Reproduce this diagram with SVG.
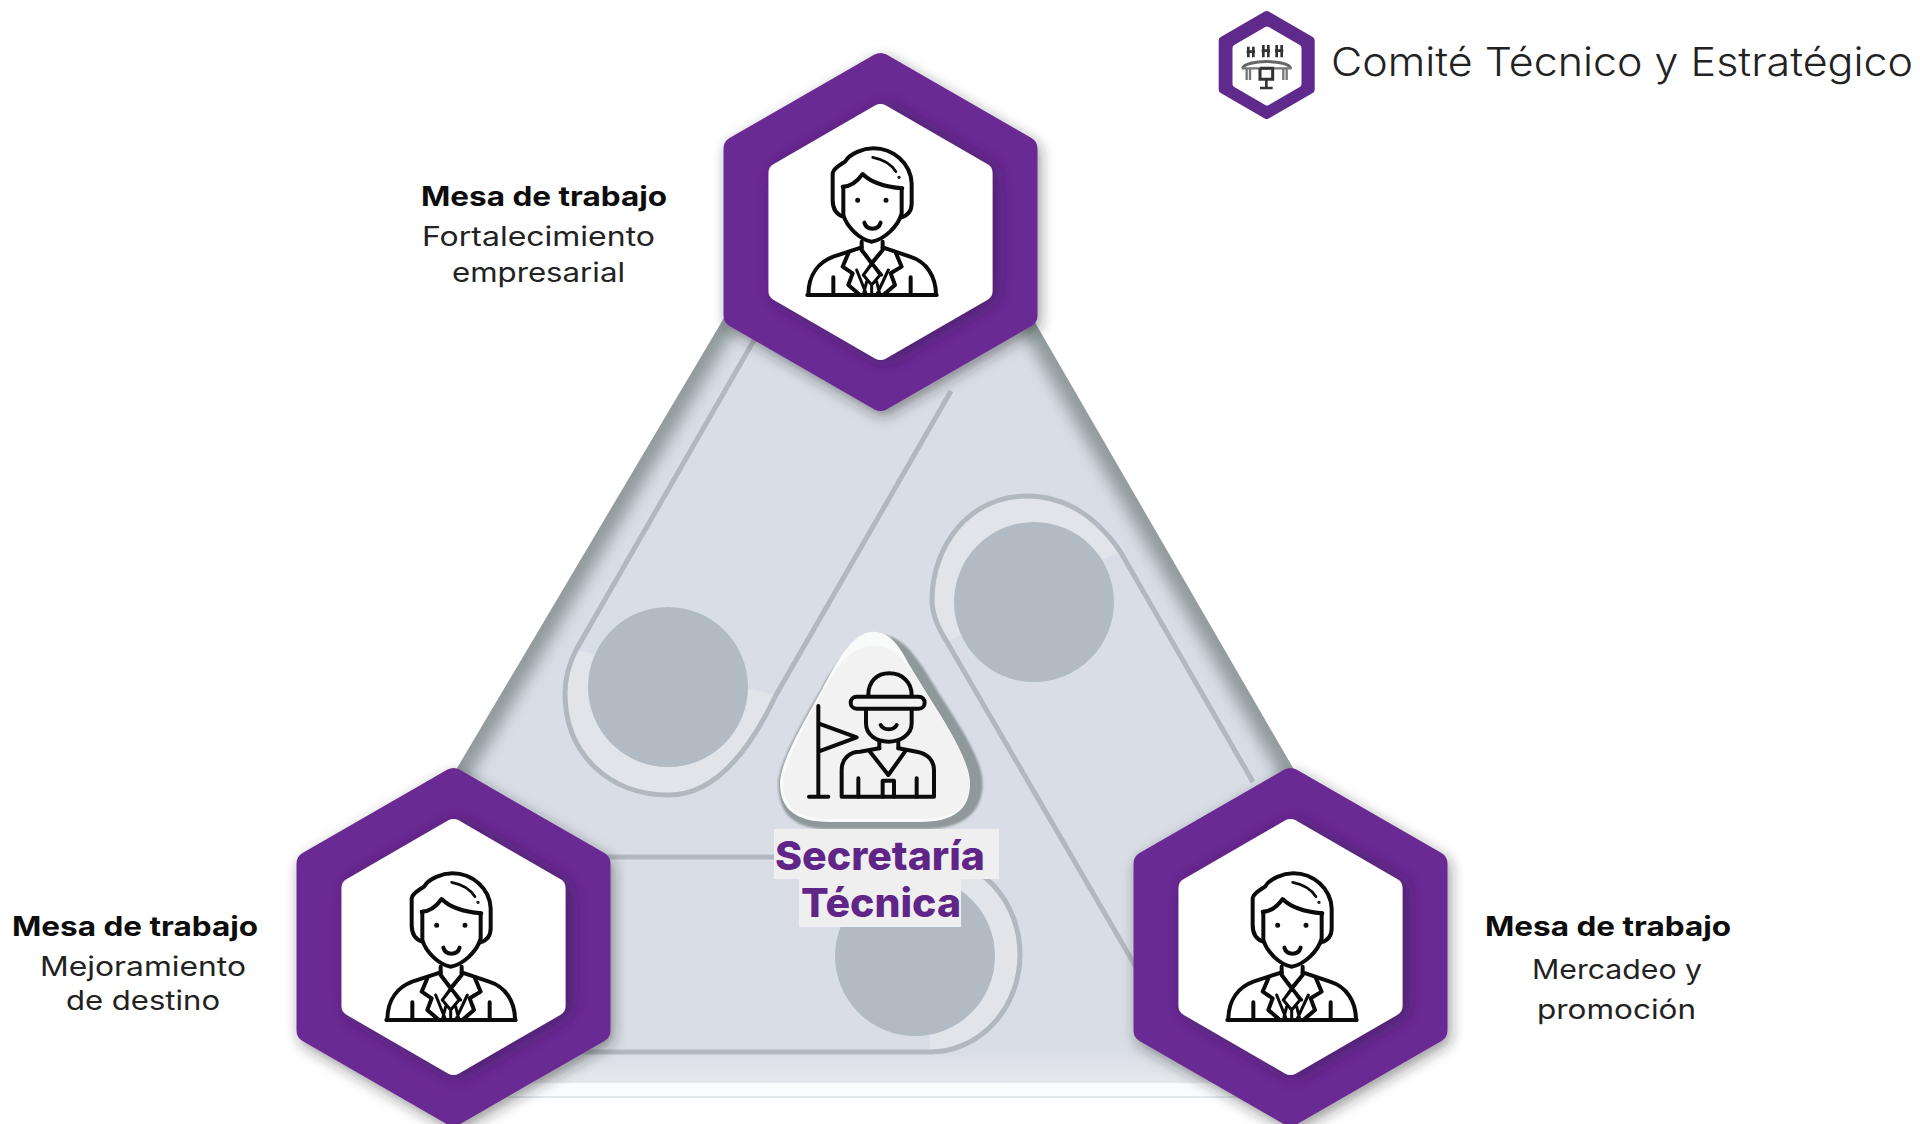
<svg xmlns="http://www.w3.org/2000/svg" width="1920" height="1124" viewBox="0 0 1920 1124">
<style>
.t{font-family:Inter,"Liberation Sans",sans-serif;fill:#222}
.b{font-family:Inter,"Liberation Sans",sans-serif;font-weight:700;fill:#0d0d0d;font-size:27px}
.r{font-size:27px;font-weight:400}
.st{font-family:Inter,"Liberation Sans",sans-serif;font-weight:800;fill:#5f2587;font-size:40px}
.groove{fill:none;stroke:#b1b9bf;stroke-width:5}
.dot{fill:#b2bbc3}
.ring{fill:#e1e5ea}
.ic{fill:none;stroke:#0b0b0b;stroke-width:12;stroke-linejoin:round;stroke-linecap:round}
</style>
<defs>
<linearGradient id="fade" x1="0" y1="0" x2="0" y2="1"><stop offset="0" stop-color="#d9dee6"/><stop offset="1" stop-color="#e6e9ec"/></linearGradient>
<clipPath id="bodyClip"><path d="M880 55L1300 780L1300 1083L450 1083L450 780Z"/></clipPath>
<filter id="blur7" filterUnits="userSpaceOnUse" x="300" y="0" width="1200" height="1124"><feGaussianBlur stdDeviation="8"/></filter>
<filter id="blur3" x="-20%" y="-20%" width="140%" height="140%"><feGaussianBlur stdDeviation="3"/></filter>
<filter id="hexShadow" x="-20%" y="-20%" width="140%" height="140%"><feDropShadow dx="3" dy="5" stdDeviation="7" flood-color="#222" flood-opacity=".45"/></filter>
<filter id="innerShade" x="-20%" y="-20%" width="140%" height="140%"><feDropShadow dx="5" dy="2" stdDeviation="9" flood-color="#3a1a58" flood-opacity=".7"/></filter>
<g id="hex">
<path d="M0 -167L145 -83.500L145 83.500L0 167L-145 83.500L-145 -83.500Z" fill="#6b2a94" stroke="#6b2a94" stroke-width="24" stroke-linejoin="round" filter="url(#hexShadow)"/>
<path d="M0 -118L102 -59L102 59L0 118L-102 59L-102 -59Z" fill="#fff" stroke="#fff" stroke-width="20" stroke-linejoin="round" filter="url(#innerShade)"/>
</g>
<g id="person" class="ic">
<path d="M430 530C405 522 398 500 398 480L398 400C400 385 420 375 435 365C450 340 490 325 520 325C580 325 632 370 635 430L635 490C635 512 625 526 604 532"/>
<path d="M428 440C455 440 475 420 488 402C510 425 550 440 607 445"/>
<path d="M430 440L430 525C440 560 480 600 515 605C550 600 595 560 605 520L605 445"/>
<path d="M518 352C550 358 575 375 588 395" stroke-width="8"/>
<path d="M493 548C500 572 535 572 542 548"/>
<path d="M485 605L485 630L515 670L548 630L548 605"/>
<path d="M325 765C325 700 360 665 400 650L485 622M548 622L630 650C680 665 708 710 708 765"/>
<path d="M322 765L710 765M400 765L400 712M632 765L632 712"/>
<path d="M445 640L428 680L458 700L445 735L480 765M588 640L605 680L572 700L585 735L550 765"/>
<path d="M485 630L545 705M548 630L490 705M515 670L490 705L515 735L540 705ZM500 725L490 765M530 725L540 765M515 735L515 765M470 690L500 765M565 690L530 765" stroke-width="9"/>
<circle cx="473" cy="481" r="4" stroke-width="7"/><circle cx="558" cy="481" r="4" stroke-width="7"/><circle cx="597" cy="412" r="2" stroke-width="6"/>
</g>
</defs>

<g id="triangle-body">
<path d="M880 55L1300 780L1300 1083L450 1083L450 780Z" fill="#d9dee6"/>
<rect x="440" y="1083" width="860" height="14" fill="#fbfcfd"/>
<rect x="500" y="1096" width="760" height="2" fill="#e3e8ec"/>
<g clip-path="url(#bodyClip)">
<path d="M880 55L1300 780M880 55L450 780" fill="none" stroke="#8f9a9b" stroke-width="30" filter="url(#blur7)"/>
<rect x="450" y="1050" width="850" height="33" fill="url(#fade)"/>
</g>
<path class="ring" d="M776 695C750 750 715 795 669 795C610 795 565 755 565 693C565 678 570 662 576 650Z"/>
<path class="ring" d="M1120 551C1095 515 1065 496 1027 496C970 496 932 545 932 600C932 615 938 628 947 642Z"/>
<path class="ring" d="M930 857A90 97.500 0 0 1 930 1052Z"/>
<path d="M951 391L776 695C750 750 715 795 669 795C610 795 565 755 565 693C565 678 570 662 576 650L757 335" class="groove"/>
<path d="M1253 782L1120 551C1095 515 1065 496 1027 496C970 496 932 545 932 600C932 615 938 628 947 642L1140 974" class="groove"/>
<path d="M560 857L930 857A90 97.500 0 0 1 930 1052L560 1052" class="groove"/>
<circle class="dot" cx="668" cy="687" r="80"/>
<circle class="dot" cx="1034" cy="602" r="80"/>
<circle class="dot" cx="915" cy="956" r="80"/>
</g>

<g id="secretaria">
<g transform="translate(740,620) scale(.33333)">
<path d="M420 45C490 45 530 110 585 200C640 290 728 410 728 490C728 585 660 628 550 628L270 628C170 628 115 590 115 490C115 430 190 300 245 205C285 130 345 45 420 45Z" fill="#8f999b" filter="url(#blur3)"/>
<path d="M400 35C450 35 480 80 505 130L560 220C610 300 690 420 690 490C690 570 640 606 540 606L270 606C170 606 120 570 120 490C120 425 195 300 245 210C285 135 335 35 400 35Z" fill="#f9fafa"/>
<path d="M400 78C470 78 510 140 560 220C610 300 688 420 688 490C688 565 640 597 540 597L270 597C175 597 130 565 130 490C130 430 200 300 250 215C290 140 330 78 400 78Z" fill="#f2f2f3"/>
<g class="ic">
<path d="M385 225C385 185 410 160 448 160C485 160 515 185 515 225"/>
<rect x="332" y="230" width="222" height="36" rx="18"/>
<path d="M378 267L378 310C378 345 410 365 445 365C480 365 515 345 515 310L515 267"/>
<path d="M422 315C430 332 462 332 470 315M418 365L418 385M475 365L475 385"/>
<path d="M305 530L305 450C305 415 330 395 360 395L418 385M475 385L530 395C560 400 582 420 582 450L582 530L305 530"/>
<path d="M390 395L445 465L495 395M355 475L355 530M530 475L530 530M428 530L428 482L462 482L462 530"/>
<path d="M235 258L235 530M207 530L265 530M235 310L350 352L235 395"/>
</g>
</g>
<rect x="774" y="829" width="225" height="50" fill="#efeff0"/>
<rect x="799" y="879" width="162" height="48" fill="#efeff0"/>
<text class="st" x="775" y="870" textLength="210" lengthAdjust="spacingAndGlyphs">Secretaría</text>
<text class="st" x="801" y="917" textLength="160" lengthAdjust="spacingAndGlyphs">Técnica</text>
</g>

<g id="mesa-top">
<use href="#hex" x="880.500" y="232"/>
<use href="#person" transform="translate(700,40) scale(.33333)"/>
<text class="b" x="421" y="206" textLength="246" lengthAdjust="spacingAndGlyphs">Mesa de trabajo</text>
<text class="t r" x="422" y="246" textLength="233" lengthAdjust="spacingAndGlyphs">Fortalecimiento</text>
<text class="t r" x="452" y="282" textLength="173" lengthAdjust="spacingAndGlyphs">empresarial</text>
</g>
<g id="mesa-left">
<use href="#hex" x="453.500" y="947"/>
<use href="#person" transform="translate(279,765) scale(.33333)"/>
<text class="b" x="12" y="936" textLength="246" lengthAdjust="spacingAndGlyphs">Mesa de trabajo</text>
<text class="t r" x="40" y="976" textLength="206" lengthAdjust="spacingAndGlyphs">Mejoramiento</text>
<text class="t r" x="66" y="1010" textLength="154" lengthAdjust="spacingAndGlyphs">de destino</text>
</g>
<g id="mesa-right">
<use href="#hex" x="1290.500" y="947"/>
<use href="#person" transform="translate(1120,765) scale(.33333)"/>
<text class="b" x="1485" y="936" textLength="246" lengthAdjust="spacingAndGlyphs">Mesa de trabajo</text>
<text class="t r" x="1532" y="979" textLength="170" lengthAdjust="spacingAndGlyphs">Mercadeo y</text>
<text class="t r" x="1537" y="1019" textLength="159" lengthAdjust="spacingAndGlyphs">promoción</text>
</g>
<g id="comite">
<path d="M1266.700 15L1310.700 40.500L1310.700 89.500L1266.700 115L1222.700 89.500L1222.700 40.500Z" fill="#5f2a8b" stroke="#5f2a8b" stroke-width="8" stroke-linejoin="round"/>
<path d="M1267 30L1298 48L1298 84L1267 102L1236 84L1236 48Z" fill="#fff" stroke="#fff" stroke-width="7" stroke-linejoin="round"/>
<g transform="translate(1200,0) scale(.33333)" fill="none" stroke="#333" stroke-width="7">
<path d="M128 205C135 178 265 178 272 205" stroke="#666" stroke-width="9"/>
<path d="M125 205L275 205M140 205L140 240M150 205L150 240M250 205L250 240M260 205L260 240" stroke="#777" stroke-width="7"/>
<path d="M145 172L145 140M160 172L160 140M140 155L165 155M190 172L190 135M205 172L205 135M185 152L210 152M230 172L230 135M245 172L245 135M225 152L250 152" stroke-width="8"/>
<path d="M180 205L180 238L218 238L218 205L180 205" stroke-width="9"/>
<path d="M199 238L199 262M180 264L218 264" stroke-width="8"/>
</g>
<text class="t" x="1331" y="76" font-size="40" font-weight="300" textLength="582" lengthAdjust="spacingAndGlyphs">Comité Técnico y Estratégico</text>
</g>
</svg>
